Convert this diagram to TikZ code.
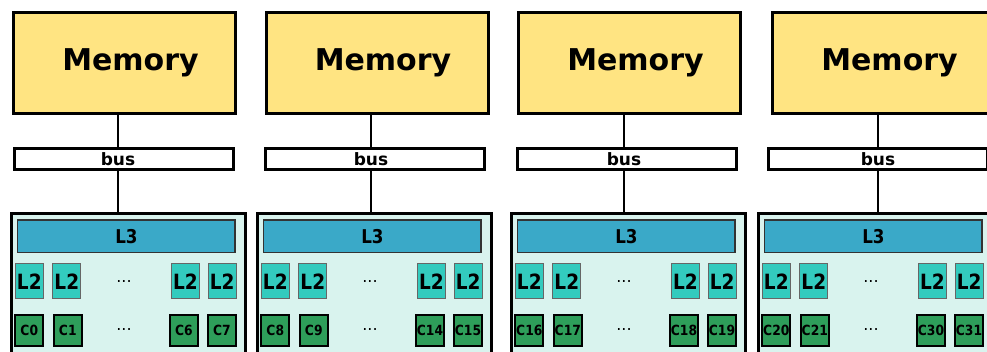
\documentclass[tikz,border=0pt]{standalone}
\usepackage{fontspec}
\setmainfont{DejaVu Sans}
\newfontfamily\condfont{DejaVu Sans}[FakeStretch=0.88]
\usetikzlibrary{calc}
\definecolor{memfill}{HTML}{FFE482}
\definecolor{clusterfill}{HTML}{D9F3EE}
\definecolor{lthreefill}{HTML}{3AA9C8}
\definecolor{ltwofill}{HTML}{33CBBE}
\definecolor{corefill}{HTML}{2E9E5A}

\begin{document}
\begin{tikzpicture}[x=1pt, y=-1pt,
    membox/.style={draw, line width=3pt, fill=memfill, minimum width=222pt, minimum height=101pt, inner sep=0pt},
    memtext/.style={font=\bfseries\fontsize{30}{30}\selectfont, inner sep=0pt},
    busbox/.style={draw, line width=3pt, fill=white, minimum width=219pt, minimum height=21pt, inner sep=0pt},
    bustext/.style={font=\bfseries\fontsize{17}{17}\selectfont, inner sep=0pt},
    cluster/.style={draw, line width=3pt, fill=clusterfill, minimum width=234pt, minimum height=200pt, inner sep=0pt},
    lthree/.style={draw=black!80, line width=1.5pt, fill=lthreefill, minimum width=217.5pt, minimum height=32.5pt, inner sep=0pt, font=\condfont\bfseries\fontsize{19}{19}\selectfont},
    ltwo/.style={draw=black!60, line width=1pt, fill=ltwofill, minimum width=28pt, minimum height=35pt, inner sep=0pt, font=\condfont\bfseries\fontsize{21}{21}\selectfont},
    core/.style={draw, line width=2pt, fill=corefill, minimum width=28pt, minimum height=31pt, inner sep=0pt, font=\condfont\bfseries\fontsize{14}{14}\selectfont},
    dots/.style={font=\fontsize{16}{16}\selectfont, inner sep=0pt, anchor=base},
    wire/.style={line width=2pt}]
    \useasboundingbox (0, 0) rectangle (987, 351);
    \clip (0, 0) rectangle (987, 351);

    % one memory / bus / socket column per entry
    \foreach \i/\mx/\bx/\bs/\cl/\lx/\ca/\cb/\cc/\cd in {1/124.5/124/-6/10/118/0/1/6/7, 2/377/375/-4/256/371/8/9/14/15, 3/629.5/626.5/-2.5/510/624/16/17/18/19, 4/883.5/878/0/757/878/20/21/30/31} {
        \node [membox, label={[memtext, xshift=6pt]center:Memory}] (mem\i) at (\mx, 63) {};
        \node [busbox, label={[bustext, xshift=\bs pt]center:bus}] (bus\i) at (\bx, 159) {};
        \node [cluster, anchor=north west] (cl\i) at (\cl, 212) {};
        \node [lthree] (lthree\i) at (\cl + 116.4, 236.3) {L3};
        \foreach \j/\dx in {a/19.3, b/56.8, c/175.5, d/212.2}
            \node [ltwo] (ltwo\i\j) at (\cl + \dx, 281.3) {L2};
        \node [core] (core\i a) at (\cl + 19.3, 330) {C\ca};
        \node [core] (core\i b) at (\cl + 57.8, 330) {C\cb};
        \node [core] (core\i c) at (\cl + 174, 330) {C\cc};
        \node [core] (core\i d) at (\cl + 212, 330) {C\cd};
        \node [dots] (dtwo\i) at (\cl + 114, 282.5) {...};
        \node [dots] (dcore\i) at (\cl + 114, 330.5) {...};

        \coordinate (w\i) at (\lx, 0);
        \draw [wire] (w\i |- mem\i.south) -- (w\i |- bus\i.north);
        \draw [wire] (w\i |- bus\i.south) -- (w\i |- cl\i.north);
    }
\end{tikzpicture}
\end{document}
